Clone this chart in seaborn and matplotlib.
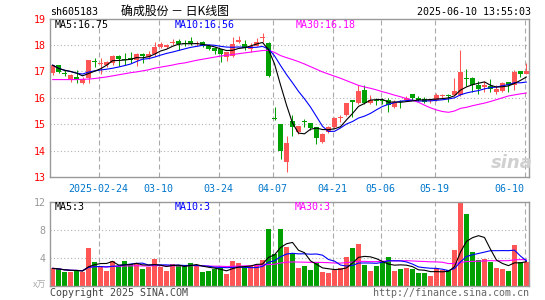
import numpy as np
import pandas as pd
import matplotlib
matplotlib.use("Agg")
import matplotlib.pyplot as plt
import seaborn as sns

# daily candles 2025-02-12 .. 2025-06-10 (80 trading days)
opens = [16.93, 17.24, 16.95, 16.72, 16.80, 16.55, 16.75, 17.38, 17.28, 17.26,
         17.30, 17.60, 17.45, 17.50, 17.42, 17.67, 17.55, 17.65, 17.92, 17.92,
         18.08, 18.15, 18.06, 18.15, 18.02, 18.13, 17.98, 17.88, 17.83, 17.55,
         17.57, 18.10, 18.05, 17.85, 17.98, 18.28, 18.07, 15.25, 15.00, 13.55,
         15.12, 14.72, 15.10, 15.03, 14.88, 14.34, 14.72, 14.90, 15.22, 15.35,
         15.90, 15.80, 16.30, 15.80, 15.90, 15.90, 15.90, 15.67, 15.87, 15.92,
         16.16, 16.00, 15.95, 15.87, 15.90, 16.05, 16.08, 16.10, 16.10, 16.75,
         16.75, 16.50, 16.40, 16.45, 16.22, 16.25, 16.60, 16.48, 17.00, 16.92]
highs = [17.25, 17.26, 17.05, 16.92, 17.07, 16.80, 17.45, 17.50, 17.50, 17.38,
         17.63, 17.63, 17.68, 17.75, 17.68, 17.68, 17.77, 18.10, 18.10, 18.05,
         18.23, 18.22, 18.20, 18.30, 18.15, 18.17, 17.98, 17.92, 17.85, 17.75,
         18.32, 18.35, 18.20, 18.07, 18.28, 18.45, 18.10, 15.65, 15.00, 14.55,
         15.35, 14.93, 15.18, 15.03, 14.88, 14.65, 14.93, 15.28, 15.35, 15.82,
         15.92, 16.50, 16.50, 16.10, 15.98, 15.98, 15.98, 15.92, 15.92, 16.05,
         16.16, 16.05, 16.02, 15.95, 16.20, 16.15, 16.15, 16.75, 17.80, 17.10,
         16.78, 16.65, 16.65, 16.72, 16.47, 16.60, 16.60, 17.05, 17.02, 17.30]
lows = [16.88, 16.95, 16.82, 16.60, 16.57, 16.52, 16.57, 17.17, 16.92, 17.15,
        17.26, 17.20, 17.23, 17.30, 17.20, 17.32, 17.48, 17.60, 17.87, 17.88,
        17.99, 17.80, 17.95, 18.00, 17.95, 17.92, 17.80, 17.65, 17.37, 17.40,
        17.55, 18.07, 17.82, 17.72, 17.95, 18.10, 16.80, 15.15, 13.70, 13.20,
        14.55, 14.63, 14.90, 14.78, 14.24, 14.27, 14.65, 14.86, 15.10, 15.32,
        15.28, 15.78, 15.78, 15.75, 15.72, 15.75, 15.47, 15.60, 15.60, 15.86,
        15.90, 15.88, 15.82, 15.82, 15.87, 15.98, 15.85, 16.05, 16.05, 16.45,
        16.22, 16.15, 16.22, 16.22, 16.16, 16.22, 16.22, 16.28, 16.80, 16.92]
closes = [17.24, 16.99, 16.90, 16.86, 16.68, 16.73, 17.42, 17.34, 17.32, 17.35,
          17.60, 17.46, 17.43, 17.45, 17.67, 17.57, 17.65, 17.92, 18.05, 18.01,
          18.12, 18.05, 18.02, 18.03, 18.05, 17.98, 17.83, 17.76, 17.65, 17.73,
          18.02, 18.18, 17.90, 17.98, 18.10, 18.32, 16.83, 15.20, 14.00, 14.28,
          14.90, 14.93, 15.07, 14.87, 14.49, 14.63, 14.90, 15.24, 15.26, 15.79,
          15.83, 16.25, 15.80, 15.90, 15.87, 15.88, 15.72, 15.85, 15.83, 16.00,
          16.00, 15.92, 15.85, 15.90, 16.10, 16.08, 16.05, 16.25, 16.98, 16.70,
          16.50, 16.33, 16.50, 16.35, 16.35, 16.57, 16.48, 16.98, 16.92, 17.00]
# volume in 10k lots
volumes = [2.48, 2.33, 2.00, 2.00, 2.10, 2.00, 5.43, 3.43, 2.86, 2.14,
           3.52, 2.81, 3.52, 3.10, 3.05, 2.38, 2.71, 3.81, 2.71, 2.10,
           3.10, 2.95, 2.95, 3.29, 2.81, 2.00, 2.14, 2.33, 2.48, 1.67,
           3.52, 3.29, 2.71, 2.86, 2.86, 3.67, 8.10, 4.52, 8.10, 5.57,
           4.62, 2.48, 2.81, 2.24, 3.19, 2.00, 1.86, 2.24, 2.48, 4.14,
           5.43, 5.95, 2.95, 2.14, 2.81, 3.43, 4.14, 2.14, 2.38, 2.57,
           2.38, 1.86, 1.86, 1.38, 2.57, 2.24, 2.24, 5.10, 11.86, 10.24,
           4.86, 3.67, 3.81, 3.43, 2.57, 2.38, 2.14, 5.81, 3.43, 3.43]
# 30-day moving average as drawn (window reaches before the first candle)
ma30_price = [16.69, 16.69, 16.69, 16.69, 16.69, 16.70, 16.71, 16.73, 16.76, 16.79,
              16.83, 16.87, 16.91, 16.95, 16.98, 17.02, 17.06, 17.12, 17.16, 17.20,
              17.24, 17.29, 17.32, 17.37, 17.42, 17.46, 17.50, 17.54, 17.58, 17.61,
              17.64, 17.67, 17.70, 17.73, 17.76, 17.79, 17.80, 17.72, 17.60, 17.52,
              17.45, 17.37, 17.28, 17.18, 17.08, 16.98, 16.90, 16.82, 16.74, 16.65,
              16.56, 16.47, 16.41, 16.36, 16.30, 16.23, 16.17, 16.10, 16.04, 15.97,
              15.90, 15.83, 15.72, 15.62, 15.54, 15.48, 15.45, 15.50, 15.60, 15.64,
              15.70, 15.75, 15.80, 15.86, 15.93, 16.00, 16.07, 16.11, 16.15, 16.18]

tick_idx = [8, 18, 28, 37, 47, 55, 64, 79]
tick_labels = ['2025-02-24', '03-10', '03-24', '04-07', '04-21', '05-06', '05-19', '06-10']

RED = '#ff5555'
GREEN = '#00a000'
GRID = '#aaaaaa'

df = pd.DataFrame({'open': opens, 'high': highs, 'low': lows,
                   'close': closes, 'vol': volumes, 'ma30': ma30_price})
df['idx'] = np.arange(len(df))
df['ma5'] = df['close'].rolling(5, min_periods=1).mean()
df['ma10'] = df['close'].rolling(10, min_periods=1).mean()
df['vma5'] = df['vol'].rolling(5, min_periods=1).mean()
df['vma10'] = df['vol'].rolling(10, min_periods=1).mean()
df['vma30'] = df['vol'].rolling(30, min_periods=1).mean()
colors = np.where(df['close'] >= df['open'], RED, GREEN)

sns.set_theme(style="white")
plt.rcParams['font.family'] = ['DejaVu Sans Mono', 'Noto Sans CJK SC']

W, H = 545, 300
fig = plt.figure(figsize=(W / 100, H / 100), dpi=100)


def box(l, t, r, b):
    return [l / W, 1 - b / H, (r - l) / W, (b - t) / H]


ax = fig.add_axes(box(50, 18.6, 529, 177))
axv = fig.add_axes(box(50, 201.7, 529, 285.7))

for a in (ax, axv):
    a.set_xlim(-0.42, 79.42)
    for s in a.spines.values():
        s.set_color('#999999')
        s.set_linewidth(1.0)
    for t in tick_idx:
        a.axvline(t - 0.33, color=GRID, lw=0.8, ls=(0, (4.5, 2.7)), zorder=0)

# price panel
ax.set_ylim(13, 19)
for y in range(14, 19):
    ax.axhline(y, color=GRID, lw=0.8, ls=(0, (0.9, 2.2)), zorder=0)
ax.vlines(df['idx'], df['low'], df['high'], colors=colors, lw=0.75, zorder=2)
body_bottom = np.minimum(df['open'], df['close'])
body_h = np.maximum((df['close'] - df['open']).abs(), 0.04)
ax.bar(df['idx'], body_h, bottom=body_bottom, width=0.8, color=colors, lw=0, zorder=2)
sns.lineplot(data=df, x='idx', y='ma30', ax=ax, color='#ff00ff', lw=0.8, zorder=3)
sns.lineplot(data=df, x='idx', y='ma10', ax=ax, color='#0000ff', lw=0.8, zorder=3)
sns.lineplot(data=df, x='idx', y='ma5', ax=ax, color='black', lw=0.8, zorder=3)
ax.set_xlabel('')
ax.set_ylabel('')
ax.set_yticks(range(13, 20))
ax.set_yticklabels([str(v) for v in range(13, 20)])
ax.tick_params(axis='y', length=0, pad=3, labelcolor='red', labelsize=7.2)
ax.set_xticks([t - 0.33 for t in tick_idx])
ax.set_xticklabels(tick_labels)
ax.tick_params(axis='x', length=0, pad=5, labelcolor='#0077cc', labelsize=7.2)
ax.get_xticklabels()[-1].set_horizontalalignment('right')

# volume panel
axv.set_ylim(0, 12)
for y in (4, 8):
    axv.axhline(y, color=GRID, lw=0.8, ls=(0, (0.9, 2.2)), zorder=0)
axv.bar(df['idx'], df['vol'], width=0.8, color=colors, lw=0, zorder=2)
sns.lineplot(data=df, x='idx', y='vma30', ax=axv, color='#ff00ff', lw=0.8, zorder=3)
sns.lineplot(data=df, x='idx', y='vma10', ax=axv, color='#0000ff', lw=0.8, zorder=3)
sns.lineplot(data=df, x='idx', y='vma5', ax=axv, color='black', lw=0.8, zorder=3)
axv.set_xlabel('')
axv.set_ylabel('')
axv.set_xticks([])
axv.set_yticks([4, 8, 12])
axv.set_yticklabels(['4', '8', '12'])
axv.tick_params(axis='y', length=0, pad=3, labelcolor='#999999', labelsize=7.2)

# header and legends
fs = 7.2
fig.text(50.5 / W, 1 - 12 / H, 'sh605183', fontsize=fs, va='center', color='black')
fig.text(121 / W, 1 - 11.5 / H, '确成股份 － 日K线图', fontsize=8.6, va='center',
         color='black', family=['Noto Sans CJK SC', 'DejaVu Sans'])
fig.text(531 / W, 1 - 12 / H, '2025-06-10 13:55:03', fontsize=fs, va='center',
         ha='right', color='black')
fig.text(55 / W, 1 - 25 / H, 'MA5:16.75', fontsize=fs, va='center', color='black')
fig.text(175 / W, 1 - 25 / H, 'MA10:16.56', fontsize=fs, va='center', color='#0000ff')
fig.text(296 / W, 1 - 25 / H, 'MA30:16.18', fontsize=fs, va='center', color='#ff00ff')
fig.text(55 / W, 1 - 207 / H, 'MA5:3', fontsize=fs, va='center', color='black')
fig.text(175 / W, 1 - 207 / H, 'MA10:3', fontsize=fs, va='center', color='#0000ff')
fig.text(295 / W, 1 - 207 / H, 'MA30:3', fontsize=fs, va='center', color='#ff00ff')
fig.text(46 / W, 1 - 285 / H, 'x万', fontsize=6.5, va='center', ha='right',
         color='#aaaaaa', family=['Noto Sans CJK SC', 'DejaVu Sans'])
fig.text(50 / W, 1 - 293 / H, 'Copyright 2025 SINA.COM', fontsize=fs, va='center',
         color='#444444')
fig.text(529 / W, 1 - 293 / H, 'http://finance.sina.com.cn', fontsize=fs, va='center',
         ha='right', color='#666666')
fig.text(512 / W, 1 - 163 / H, 'sina', fontsize=13, va='center', ha='center',
         color='#d0d0d0', style='italic', weight='bold', family='DejaVu Sans')

fig.savefig('out.png', dpi=100)
